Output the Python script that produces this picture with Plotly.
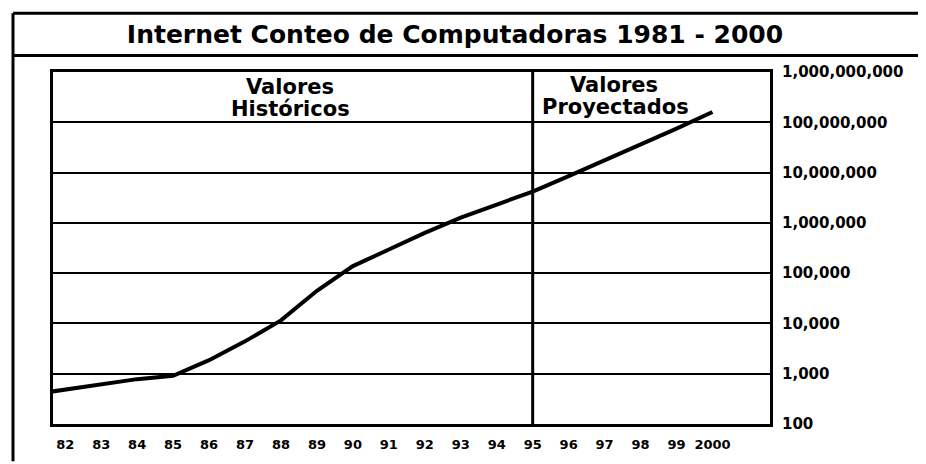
import plotly.graph_objects as go

# ---- data ----
years = [1981, 1982, 1983, 1984, 1985, 1986, 1987, 1988, 1989, 1990,
         1991, 1992, 1993, 1994, 1995, 1996, 1997, 1998, 1999, 2000]
hosts = [380, 480, 610, 780, 910, 1860, 4400, 11500, 44700, 138000,
         295000, 630000, 1270000, 2300000, 4200000, 8500000, 17400000,
         36000000, 75000000, 160000000]

tick_years = list(range(1982, 2001))
tick_year_labels = ["82", "83", "84", "85", "86", "87", "88", "89", "90", "91",
                    "92", "93", "94", "95", "96", "97", "98", "99", "2000"]

y_tick_values = [100, 1000, 10000, 100000, 1000000, 10000000, 100000000, 1000000000]
y_tick_labels = ["100", "1,000", "10,000", "100,000", "1,000,000",
                 "10,000,000", "100,000,000", "1,000,000,000"]

projection_start = 1995
title_text = "Internet Conteo de Computadoras 1981 - 2000"
label_hist = ["Valores", "Históricos"]
label_proj = ["Valores", "Proyectados"]

FONT = "DejaVu Sans"
OFF = 8  # page body margin
W, H = 926 - OFF, 464 - OFF
# target plot area in window pixels: x 53..770, y 72..432
ML, MT = 53 - OFF, 72 - OFF
MR, MB = W - (770 - OFF), H - (432 - OFF)
PW, PH = W - ML - MR, H - MT - MB


def px_x(p):
    return (p - OFF - ML) / PW


def px_y(p):
    return 1 - (p - OFF - MT) / PH


fig = go.Figure()
fig.add_trace(go.Scatter(
    x=years, y=hosts, mode="lines",
    line=dict(color="black", width=4),
    hoverinfo="skip", showlegend=False,
))

fig.update_layout(
    width=W, height=H,
    margin=dict(l=ML, r=MR, t=MT, b=MB),
    paper_bgcolor="white", plot_bgcolor="white",
    showlegend=False,
    title=dict(
        text=title_text, xref="container", x=(455 - OFF) / W, xanchor="center",
        yref="container", y=1 - (34 - OFF) / H, yanchor="middle",
        font=dict(family=FONT, size=25, color="black", weight="bold"),
    ),
    xaxis=dict(
        range=[1981.66, 2001.6],
        tickmode="array", tickvals=tick_years, ticktext=tick_year_labels,
        showgrid=False, zeroline=False,
        showline=True, linecolor="black", linewidth=3, mirror=True,
        ticks="", tickfont=dict(family=FONT, size=13, color="black", weight="bold"),
        ticklabelstandoff=6,
    ),
    yaxis=dict(
        type="log", range=[2, 9], side="right",
        tickmode="array", tickvals=y_tick_values, ticktext=y_tick_labels,
        showgrid=True, gridcolor="black", gridwidth=2,
        showline=True, linecolor="black", linewidth=3, mirror=True,
        ticks="", tickfont=dict(family=FONT, size=15, color="black", weight="bold"),
        ticklabelstandoff=6,
    ),
)

# vertical divider between historical and projected values
fig.add_shape(type="line", xref="x", yref="paper",
              x0=projection_start, x1=projection_start, y0=0, y1=1,
              line=dict(color="black", width=3))

# outer frame and title separator
fig.add_shape(type="line", xref="paper", yref="paper",
              x0=px_x(13), x1=px_x(930), y0=px_y(12), y1=px_y(12),
              line=dict(color="black", width=3))
fig.add_shape(type="line", xref="paper", yref="paper",
              x0=px_x(13), x1=px_x(930), y0=px_y(55), y1=px_y(55),
              line=dict(color="black", width=3))
fig.add_shape(type="line", xref="paper", yref="paper",
              x0=px_x(13), x1=px_x(13), y0=px_y(12), y1=px_y(470),
              line=dict(color="black", width=3))

ann_font = dict(family=FONT, size=21, color="black", weight="bold")
for txt, cx, cy in [(label_hist[0], 290, 87), (label_hist[1], 290, 110),
                    (label_proj[0], 614, 85), (label_proj[1], 615, 108)]:
    fig.add_annotation(text=txt, xref="paper", yref="paper",
                       x=px_x(cx), y=px_y(cy), xanchor="center", yanchor="middle",
                       showarrow=False, font=ann_font)

fig.write_html("out.html")
